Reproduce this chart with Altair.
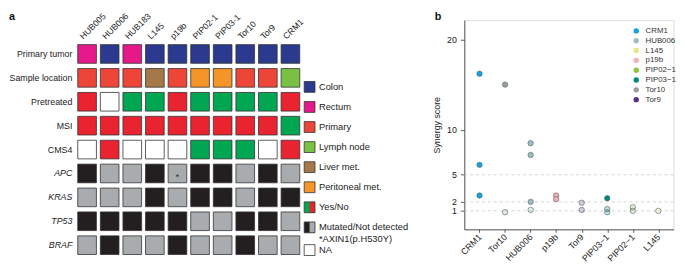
import altair as alt
import pandas as pd

# ---------------- panel a data ----------------
samples = ["HUB005", "HUB006", "HUB183", "L145", "p19b", "PIP02-1", "PIP03-1", "Tor10", "Tor9", "CRM1"]
features = ["Primary tumor", "Sample location", "Pretreated", "MSI", "CMS4", "APC", "KRAS", "TP53", "BRAF"]
primary_tumor = ["Rectum", "Colon", "Rectum", "Colon", "Colon", "Colon", "Colon", "Colon", "Colon", "Colon"]
sample_location = ["Primary", "Primary", "Primary", "Liver met.", "Primary", "Peritoneal met.",
                   "Peritoneal met.", "Primary", "Primary", "Lymph node"]
pretreated = ["No", "NA", "Yes", "Yes", "No", "Yes", "Yes", "Yes", "Yes", "No"]
msi = ["No", "No", "No", "No", "No", "No", "No", "No", "No", "Yes"]
cms4 = ["NA", "No", "NA", "NA", "NA", "Yes", "Yes", "Yes", "NA", "No"]
apc = ["Mutated", "Not detected", "Not detected", "Mutated", "Not detected", "Mutated", "Mutated",
       "Not detected", "Mutated", "Not detected"]
kras = ["Not detected", "Not detected", "Not detected", "Mutated", "Not detected", "Mutated", "Mutated",
        "Not detected", "Mutated", "Mutated"]
tp53 = ["Mutated", "Mutated", "Mutated", "Mutated", "Mutated", "Not detected", "Not detected",
        "Mutated", "Mutated", "Not detected"]
braf = ["Not detected", "Mutated", "Not detected", "Not detected", "Mutated", "Not detected",
        "Not detected", "Mutated", "Not detected", "Not detected"]
apc_axin1_note = ["", "", "", "", "*", "", "", "", "", ""]

status_domain = ["Colon", "Rectum", "Primary", "Lymph node", "Liver met.", "Peritoneal met.",
                 "Yes", "No", "Mutated", "Not detected", "NA"]
status_colors = ["#2B3A8F", "#E6198A", "#EE4539", "#7AC143", "#A57849", "#F4952A",
                 "#00A651", "#E92330", "#231F20", "#A9ACAF", "#FFFFFF"]

legend_labels = ["Colon", "Rectum", "Primary", "Lymph node", "Liver met.", "Peritoneal met.",
                 "Yes/No", "Mutated/Not  detected", "NA"]
legend_first = ["Colon", "Rectum", "Primary", "Lymph node", "Liver met.", "Peritoneal met.",
                "Yes", "Mutated", "NA"]
legend_second = ["", "", "", "", "", "", "No", "Not detected", ""]
legend_slot = [0, 1, 2, 3, 4, 5, 6, 7, 8.13]
footnote = "*AXIN1(p.H530Y)"
footnote_slot = 7.59

# ---------------- panel b data ----------------
x_order = ["CRM1", "Tor10", "HUB006", "p19b", "Tor9", "PIP03\u22121", "PIP02\u22121", "L145"]
legend_order = ["CRM1", "HUB006", "L145", "p19b", "PIP02\u22121", "PIP03\u22121", "Tor10", "Tor9"]
line_colors = ["#12A4DD", "#9CBEC0", "#EAE38C", "#F1B3B1", "#8CC63F", "#00877F", "#9B9C9F", "#5E2D84"]
pt_line = ["CRM1", "CRM1", "CRM1", "Tor10", "Tor10", "HUB006", "HUB006", "HUB006", "HUB006",
           "p19b", "p19b", "Tor9", "Tor9", "PIP03\u22121", "PIP03\u22121", "PIP03\u22121",
           "PIP02\u22121", "PIP02\u22121", "L145"]
pt_score = [16.2, 6.1, 2.7, 15.0, 0.85, 8.5, 7.2, 2.0, 1.1,
            2.7, 2.3, 1.9, 1.1, 2.4, 1.2, 0.85,
            1.4, 1.0, 1.0]
pt_signif = ["sig", "sig", "sig", "sig", "ns", "sig", "sig", "sig", "ns",
             "sig", "sig", "ns", "ns", "sig", "ns", "ns",
             "ns", "ns", "ns"]
y_ticks = [1, 2, 5, 10, 20]
grid_values = [1, 2, 5]

FONT = "Liberation Sans"
TXT = "#222222"

# ---------------- build panel a ----------------
feature_values = [primary_tumor, sample_location, pretreated, msi, cms4, apc, kras, tp53, braf]
recs = []
for f, vals in zip(features, feature_values):
    for i, (s, v) in enumerate(zip(samples, vals)):
        recs.append({"sample": s, "feature": f, "status": v,
                     "note": apc_axin1_note[i] if f == "APC" else ""})
df_a = pd.DataFrame(recs)

status_scale = alt.Scale(domain=status_domain, range=status_colors)


def x_scale_a():
    return alt.Scale(domain=samples, paddingInner=0.174, paddingOuter=0.087, round=False)


def y_scale_a():
    return alt.Scale(domain=features, paddingInner=0.22, paddingOuter=0.573, align=0.896, round=False)


y_axis_a = alt.Axis(title=None, ticks=False, tickSize=0, domain=False, grid=False, labelPadding=4,
                    labelFontSize=9, labelColor=TXT,
                    labelFontStyle={"expr": "indexof(['APC','KRAS','TP53','BRAF'], datum.value) >= 0 ? 'italic' : 'normal'"})

cells = alt.Chart(df_a).mark_rect(stroke="#333333", strokeWidth=0.8).encode(
    x=alt.X("sample:N", scale=x_scale_a(), axis=None),
    y=alt.Y("feature:N", scale=y_scale_a(), axis=y_axis_a),
    color=alt.Color("status:N", scale=status_scale, legend=None),
)
notes = alt.Chart(df_a).transform_filter("datum.note != ''").mark_text(
    fontSize=10, color="#333333", dy=2, font=FONT).encode(
    x=alt.X("sample:N", scale=x_scale_a(), axis=None),
    y=alt.Y("feature:N", scale=y_scale_a(), axis=None),
    text="note:N",
)
col_labels = alt.Chart(pd.DataFrame({"sample": samples})).mark_text(
    angle=315, align="left", baseline="middle", fontSize=8.8, color=TXT, font=FONT, xOffset=-6
).encode(
    x=alt.X("sample:N", scale=x_scale_a(), axis=None),
    y=alt.value(18),
    text="sample:N",
)

df_leg = pd.DataFrame({"label": legend_labels, "c1": legend_first, "c2": legend_second,
                       "slot": legend_slot})
df_leg_text = pd.DataFrame({"label": legend_labels + [footnote],
                            "slot": legend_slot + [footnote_slot]})


def leg_scale():
    return alt.Scale(domain=[-3.328, 8.493], reverse=True, zero=False, nice=False)


PLOT_LEFT = 76.5
sw_x1, sw_x2, sw_mid = 309 - PLOT_LEFT, 320 - PLOT_LEFT, 314.5 - PLOT_LEFT

leg_base = alt.Chart(df_leg).transform_calculate(
    y1="datum.slot - 0.27", y2="datum.slot + 0.27")
leg_fill1 = leg_base.mark_rect().encode(
    x=alt.value(sw_x1), x2=alt.value(sw_x2),
    y=alt.Y("y1:Q", scale=leg_scale(), axis=None), y2="y2:Q",
    color=alt.Color("c1:N", scale=status_scale, legend=None),
)
leg_fill2 = leg_base.transform_filter("datum.c2 != ''").mark_rect().encode(
    x=alt.value(sw_mid), x2=alt.value(sw_x2),
    y=alt.Y("y1:Q", scale=leg_scale(), axis=None), y2="y2:Q",
    color=alt.Color("c2:N", scale=status_scale, legend=None),
)
leg_outline = leg_base.mark_rect(fill="white", fillOpacity=0, stroke="#333333", strokeWidth=0.8).encode(
    x=alt.value(sw_x1), x2=alt.value(sw_x2),
    y=alt.Y("y1:Q", scale=leg_scale(), axis=None), y2="y2:Q",
)
leg_text = alt.Chart(df_leg_text).mark_text(align="left", baseline="middle", fontSize=9.5,
                                            color=TXT, font=FONT).encode(
    x=alt.value(324 - PLOT_LEFT),
    y=alt.Y("slot:Q", scale=leg_scale(), axis=None),
    text="label:N",
)
a_text = alt.Chart(pd.DataFrame({"t": ["a"]})).mark_text(
    align="left", baseline="alphabetic", fontSize=11, fontWeight="bold", color="#111111", font=FONT
).encode(x=alt.value(8.5 - PLOT_LEFT), y=alt.value(-0.5), text="t:N")

left = alt.layer(cells, notes, col_labels, leg_fill1, leg_fill2, leg_outline, leg_text,
                 a_text).resolve_scale(x="independent", y="independent").properties(
    width=230, height=241.5, view=alt.ViewBackground(strokeWidth=0, stroke="transparent"))

# ---------------- build panel b ----------------
df_b = pd.DataFrame({"line": pt_line, "score": pt_score, "signif": pt_signif})
y_scale_b = alt.Scale(domain=[-1.05, 22.15], zero=False, nice=False)
y_axis_b = alt.Axis(values=y_ticks, title="Synergy score", grid=False, tickSize=4, labelPadding=4,
                    labelFontSize=9, labelColor=TXT, titleFontSize=9, titleFontWeight="normal",
                    titleColor=TXT, titlePadding=5, domainColor="#333333", tickColor="#333333",
                    domainWidth=0.8, tickWidth=0.8)

rules = alt.Chart(pd.DataFrame({"score": grid_values})).mark_rule(
    strokeDash=[3, 3], color="#c8c8c8", strokeWidth=0.8
).encode(y=alt.Y("score:Q", scale=y_scale_b, axis=y_axis_b))

points = alt.Chart(df_b).mark_circle(size=30, opacity=1, stroke="#4f6262", strokeWidth=0.6).encode(
    x=alt.X("line:N", sort=x_order,
            scale=alt.Scale(type="point", padding=0.596, round=False),
            axis=alt.Axis(title=None, labelAngle=-45, labelAlign="right", labelBaseline="middle",
                          labelPadding=3, tickSize=3, labelFontSize=9, labelColor=TXT,
                          domainColor="#333333", tickColor="#333333", domainWidth=0.8,
                          tickWidth=0.8)),
    y=alt.Y("score:Q", scale=y_scale_b, axis=y_axis_b),
    fill=alt.Fill("line:N", scale=alt.Scale(domain=legend_order, range=line_colors),
                  legend=alt.Legend(orient="none", legendX=171, legendY=7, title=None,
                                    symbolType="circle", symbolSize=30, symbolStrokeWidth=0,
                                    symbolOpacity=1, labelFontSize=8, labelColor="#333333",
                                    rowPadding=2, padding=0, labelOffset=5.5, labelFont=FONT)),
    fillOpacity=alt.FillOpacity("signif:N", scale=alt.Scale(domain=["sig", "ns"], range=[1, 0.25]),
                                legend=None),
)
b_text = alt.Chart(pd.DataFrame({"t": ["b"]})).mark_text(
    align="left", baseline="alphabetic", fontSize=11, fontWeight="bold", color="#111111", font=FONT
).encode(x=alt.value(-30), y=alt.value(-0.5), text="t:N")

right = alt.layer(rules, points, b_text).properties(width=213, height=213)

chart = alt.hconcat(left, right, spacing=165.5, bounds="flush").resolve_legend(
    fill="independent", color="independent", fillOpacity="independent"
).properties(padding=0).configure_view(strokeWidth=0, stroke="transparent").configure(font=FONT)

chart.save("out.html", embed_options={"renderer": "svg", "actions": False})
